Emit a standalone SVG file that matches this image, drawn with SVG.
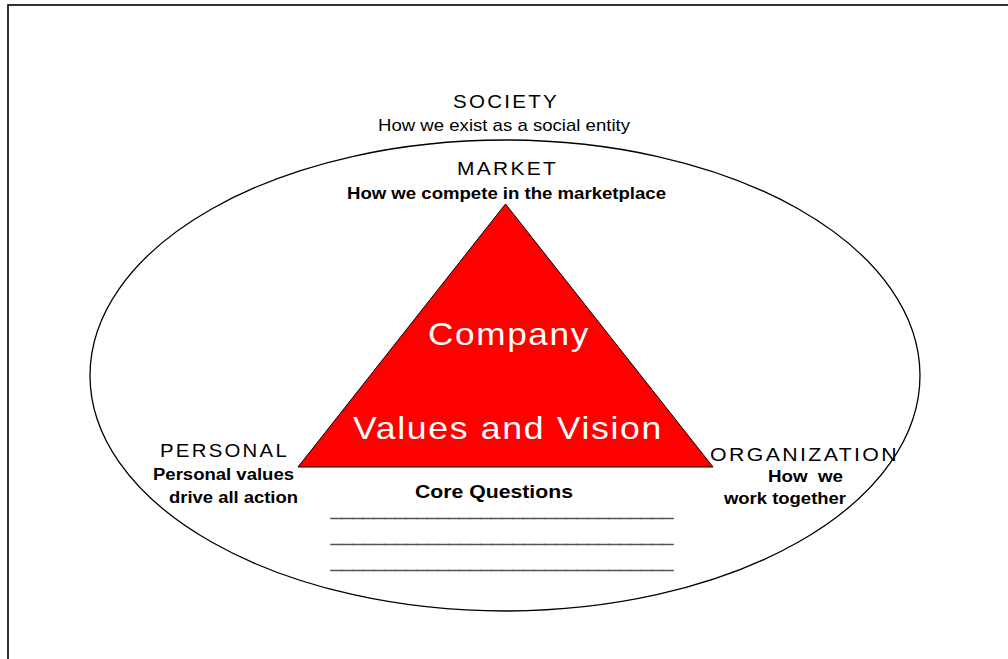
<svg xmlns="http://www.w3.org/2000/svg" width="1008" height="659" viewBox="0 0 1008 659">
  <style>
    .lbl { font-family: "Liberation Sans", Arial, sans-serif; fill: #000; }
    .cap { font-size: 18px; letter-spacing: 2px; }
    .reg { font-size: 17px; }
    .bld { font-size: 16px; font-weight: bold; }
    .big { font-size: 32px; fill: #fff; letter-spacing: 1.5px; }
    .rule { font-size: 14px; fill: #555; stroke: #555; stroke-width: 0.7px; }
  </style>
  <rect width="1008" height="659" fill="#fff"/>
  <!-- page frame, open to the right and bottom -->
  <rect x="8" y="5" width="1020" height="680" fill="none" stroke="#000" stroke-width="1.6"/>

  <g id="society">
    <ellipse cx="505" cy="375.5" rx="415" ry="235.5" fill="none" stroke="#000" stroke-width="1.3"/>
    <text class="lbl cap" x="453" y="108" textLength="106" lengthAdjust="spacingAndGlyphs">SOCIETY</text>
    <text class="lbl reg" x="378" y="131" textLength="252" lengthAdjust="spacingAndGlyphs">How we exist as a social entity</text>
  </g>

  <g id="company">
    <polygon points="505.5,204 298,467 713,467" fill="#f00" stroke="#000" stroke-width="1"/>
    <text class="lbl big" x="428" y="345" textLength="162" lengthAdjust="spacingAndGlyphs">Company</text>
    <text class="lbl big" x="353" y="439" textLength="310" lengthAdjust="spacingAndGlyphs">Values and Vision</text>
  </g>

  <g id="market">
    <text class="lbl cap" x="457" y="175" textLength="101" lengthAdjust="spacingAndGlyphs">MARKET</text>
    <text class="lbl bld" x="347" y="199" textLength="319" lengthAdjust="spacingAndGlyphs">How we compete in the marketplace</text>
  </g>

  <g id="personal">
    <text class="lbl cap" x="160" y="457" textLength="129" lengthAdjust="spacingAndGlyphs">PERSONAL</text>
    <text class="lbl bld" x="153" y="480" textLength="141" lengthAdjust="spacingAndGlyphs">Personal values</text>
    <text class="lbl bld" x="169" y="503" textLength="129" lengthAdjust="spacingAndGlyphs">drive all action</text>
  </g>

  <g id="organization">
    <text class="lbl cap" x="710" y="461" textLength="189" lengthAdjust="spacingAndGlyphs">ORGANIZATION</text>
    <text class="lbl bld" x="768" y="482" textLength="75" lengthAdjust="spacingAndGlyphs" xml:space="preserve">How  we</text>
    <text class="lbl bld" x="724" y="504" textLength="122" lengthAdjust="spacingAndGlyphs">work together</text>
  </g>

  <g id="core-questions">
    <text class="lbl bld" x="415" y="498" textLength="158" lengthAdjust="spacingAndGlyphs" style="font-size:18px">Core Questions</text>
    <text class="lbl rule" x="331" y="516" textLength="342" lengthAdjust="spacingAndGlyphs">________________________________</text>
    <text class="lbl rule" x="331" y="542" textLength="342" lengthAdjust="spacingAndGlyphs">________________________________</text>
    <text class="lbl rule" x="331" y="568" textLength="342" lengthAdjust="spacingAndGlyphs">________________________________</text>
  </g>

  <g id="connectors"></g>
</svg>
